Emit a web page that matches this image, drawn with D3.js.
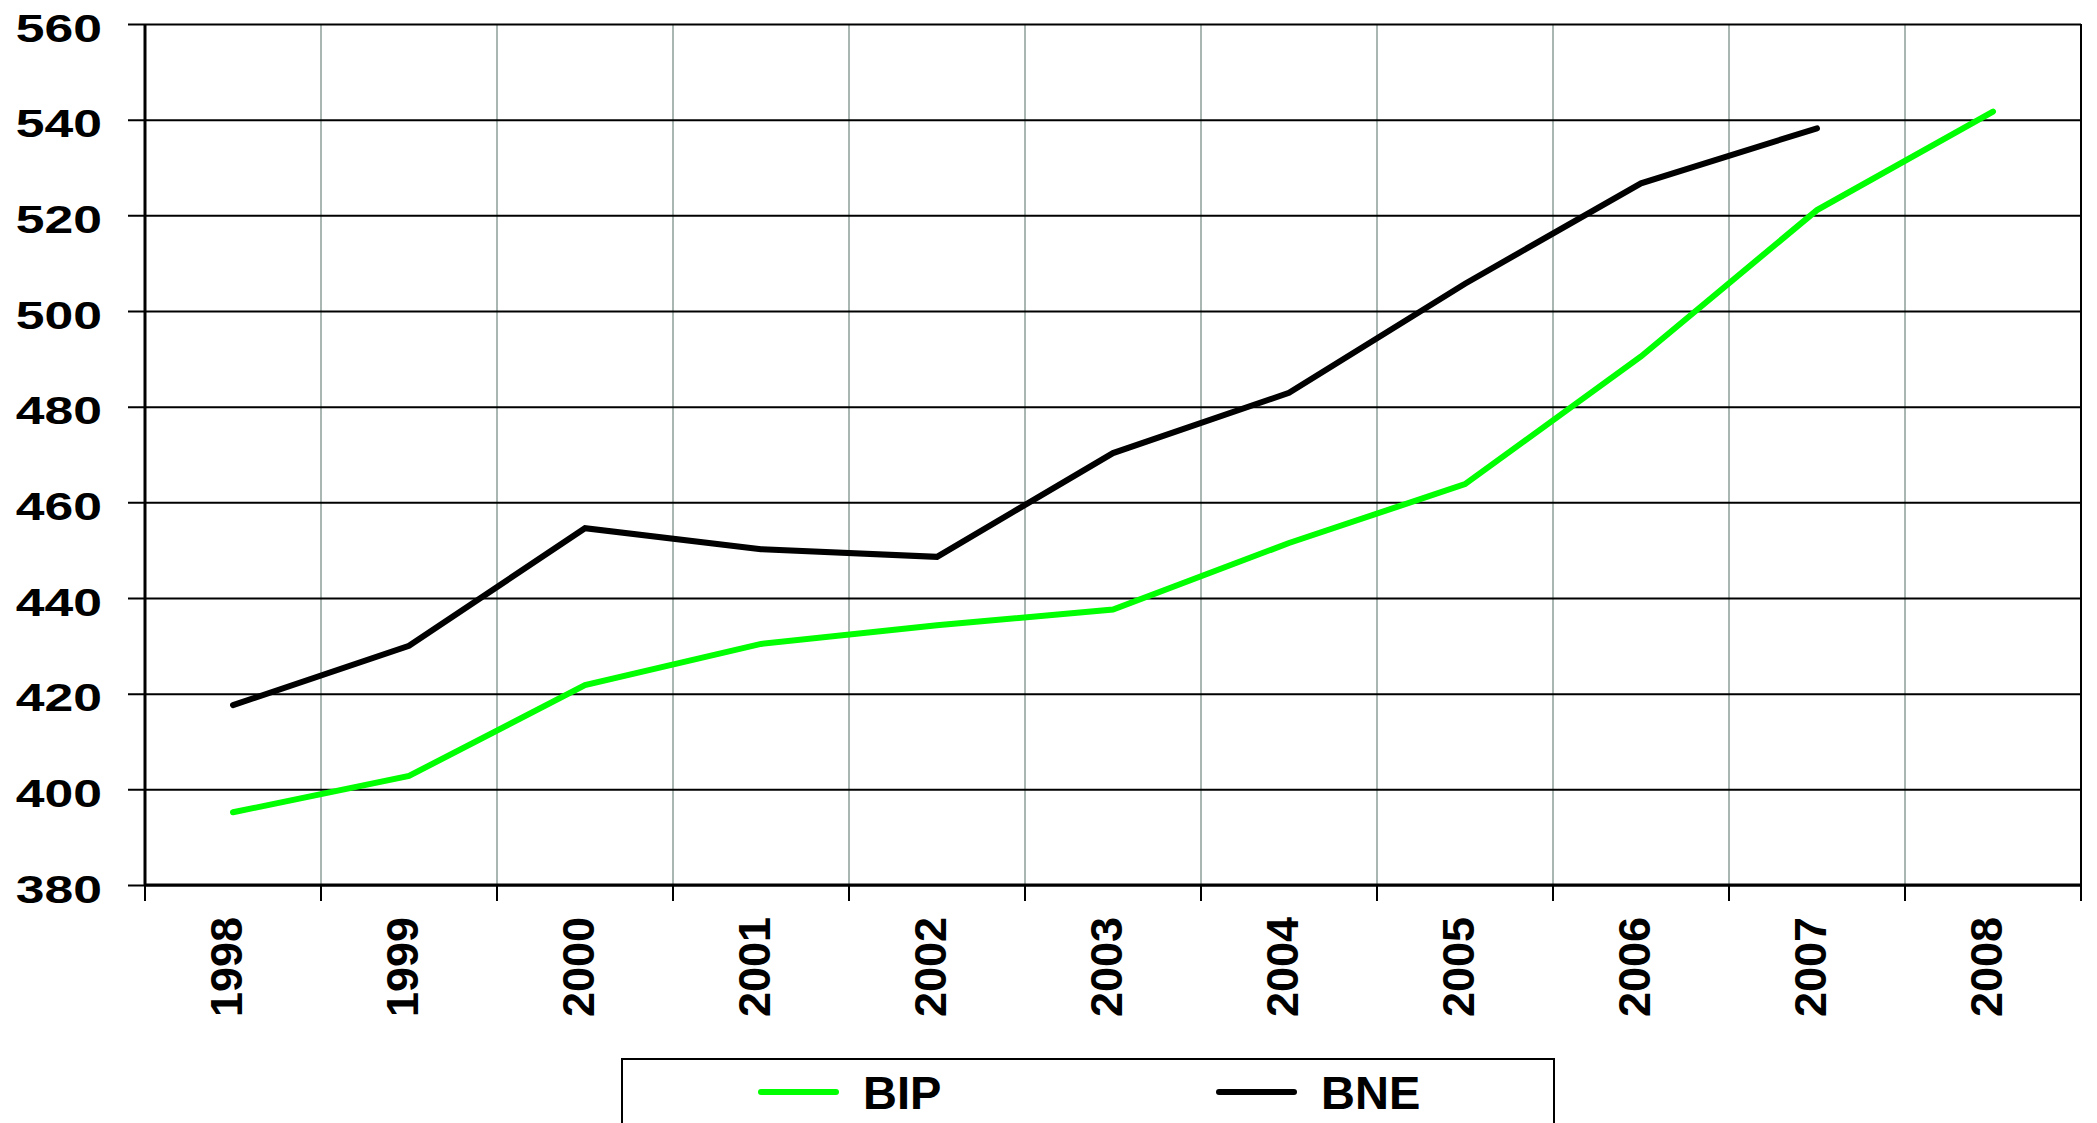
<!DOCTYPE html>
<html>
<head>
<meta charset="utf-8">
<script src="https://cdn.jsdelivr.net/npm/d3@7"></script>
<style>
  html, body { margin: 0; padding: 0; background: #fff; }
  svg { display: block; font-family: "Liberation Sans", Arial, sans-serif; font-weight: bold; }
</style>
</head>
<body>
<svg id="chart" width="2097" height="1123"></svg>
<script>
// chart data
const years = ["1998", "1999", "2000", "2001", "2002", "2003", "2004", "2005", "2006", "2007", "2008"];
const bip = [395.2, 402.8, 421.8, 430.4, 434.3, 437.6, 451.5, 463.8, 490.5, 521.1, 541.7];
const bne = [417.6, 430.0, 454.6, 450.2, 448.6, 470.3, 482.9, 505.7, 526.7, 538.2, null];
const yTicks = [380, 400, 420, 440, 460, 480, 500, 520, 540, 560];
const seriesNames = ["BIP", "BNE"];
const seriesColors = ["#00ff00", "#000000"];

const svg = d3.select("#chart");

// plot area
const plotL = 145, plotR = 2081, plotT = 24, plotB = 885;

// scales
const x = d3.scaleBand().domain(years).range([plotL, plotR]).padding(0);
const y = d3.scaleLinear().domain([380, 560]).range([plotB, plotT]);

// vertical grey gridlines at category boundaries
svg.append("g")
  .selectAll("line")
  .data(years.slice(1))
  .enter()
  .append("line")
  .attr("x1", d => x(d)).attr("x2", d => x(d))
  .attr("y1", plotT).attr("y2", plotB)
  .attr("stroke", "#a9b6b2")
  .attr("stroke-width", 2);

// horizontal gridlines + y axis ticks
const yAxis = d3.axisLeft(y)
  .tickValues(yTicks)
  .tickSize(-(plotR - plotL))
  .tickSizeOuter(0)
  .tickFormat(d3.format("d"));

const gy = svg.append("g")
  .attr("transform", `translate(${plotL},0)`)
  .call(yAxis);
gy.select(".domain").remove();
gy.selectAll(".tick line")
  .attr("x1", -17)
  .attr("stroke", "#000")
  .attr("stroke-width", 2);
gy.selectAll(".tick text")
  .attr("x", null).attr("dy", null)
  .attr("text-anchor", "end")
  .attr("font-size", 38)
  .attr("fill", "#000")
  .attr("transform", "translate(-43,17) scale(1.36,1)");

// left axis line and right border
svg.append("line")
  .attr("x1", plotL).attr("x2", plotL).attr("y1", plotT).attr("y2", plotB)
  .attr("stroke", "#000").attr("stroke-width", 3);
svg.append("line")
  .attr("x1", plotR).attr("x2", plotR).attr("y1", plotT).attr("y2", plotB)
  .attr("stroke", "#000").attr("stroke-width", 2);

// x axis: ticks at category boundaries, rotated labels
const boundaries = years.map(d => x(d)).concat([plotR]);
svg.append("g")
  .selectAll("line")
  .data(boundaries)
  .enter()
  .append("line")
  .attr("x1", d => d).attr("x2", d => d)
  .attr("y1", plotB).attr("y2", plotB + 16)
  .attr("stroke", "#000").attr("stroke-width", 2);
svg.append("line")
  .attr("x1", plotL - 1).attr("x2", plotR + 1).attr("y1", plotB).attr("y2", plotB)
  .attr("stroke", "#000").attr("stroke-width", 3);

svg.append("g")
  .selectAll("text")
  .data(years)
  .enter()
  .append("text")
  .attr("transform", d => `translate(${x(d) + x.bandwidth() / 2 + 9},${plotB + 32}) rotate(-90)`)
  .attr("text-anchor", "end")
  .attr("font-size", 45)
  .attr("fill", "#000")
  .text(d => d);

// lines
const line = d3.line()
  .defined(d => d.v != null)
  .x(d => x(d.year) + x.bandwidth() / 2)
  .y(d => y(d.v));

[bip, bne].forEach((vals, i) => {
  const pts = years.map((yr, j) => ({ year: yr, v: vals[j] }));
  svg.append("path")
    .datum(pts)
    .attr("d", line)
    .attr("fill", "none")
    .attr("stroke", seriesColors[i])
    .attr("stroke-width", 6)
    .attr("stroke-linejoin", "miter")
    .attr("stroke-linecap", "round");
});

// legend
const legend = svg.append("g");
legend.append("rect")
  .attr("x", 622).attr("y", 1059)
  .attr("width", 932).attr("height", 100)
  .attr("fill", "#fff").attr("stroke", "#000").attr("stroke-width", 2);

const legendX = [761, 1219];
seriesNames.forEach((name, i) => {
  legend.append("line")
    .attr("x1", legendX[i]).attr("x2", legendX[i] + 75)
    .attr("y1", 1092).attr("y2", 1092)
    .attr("stroke", seriesColors[i])
    .attr("stroke-width", 6)
    .attr("stroke-linecap", "round");
  legend.append("text")
    .attr("x", legendX[i] + 102)
    .attr("y", 1109)
    .attr("font-size", 47)
    .attr("fill", "#000")
    .text(name);
});
</script>
</body>
</html>
